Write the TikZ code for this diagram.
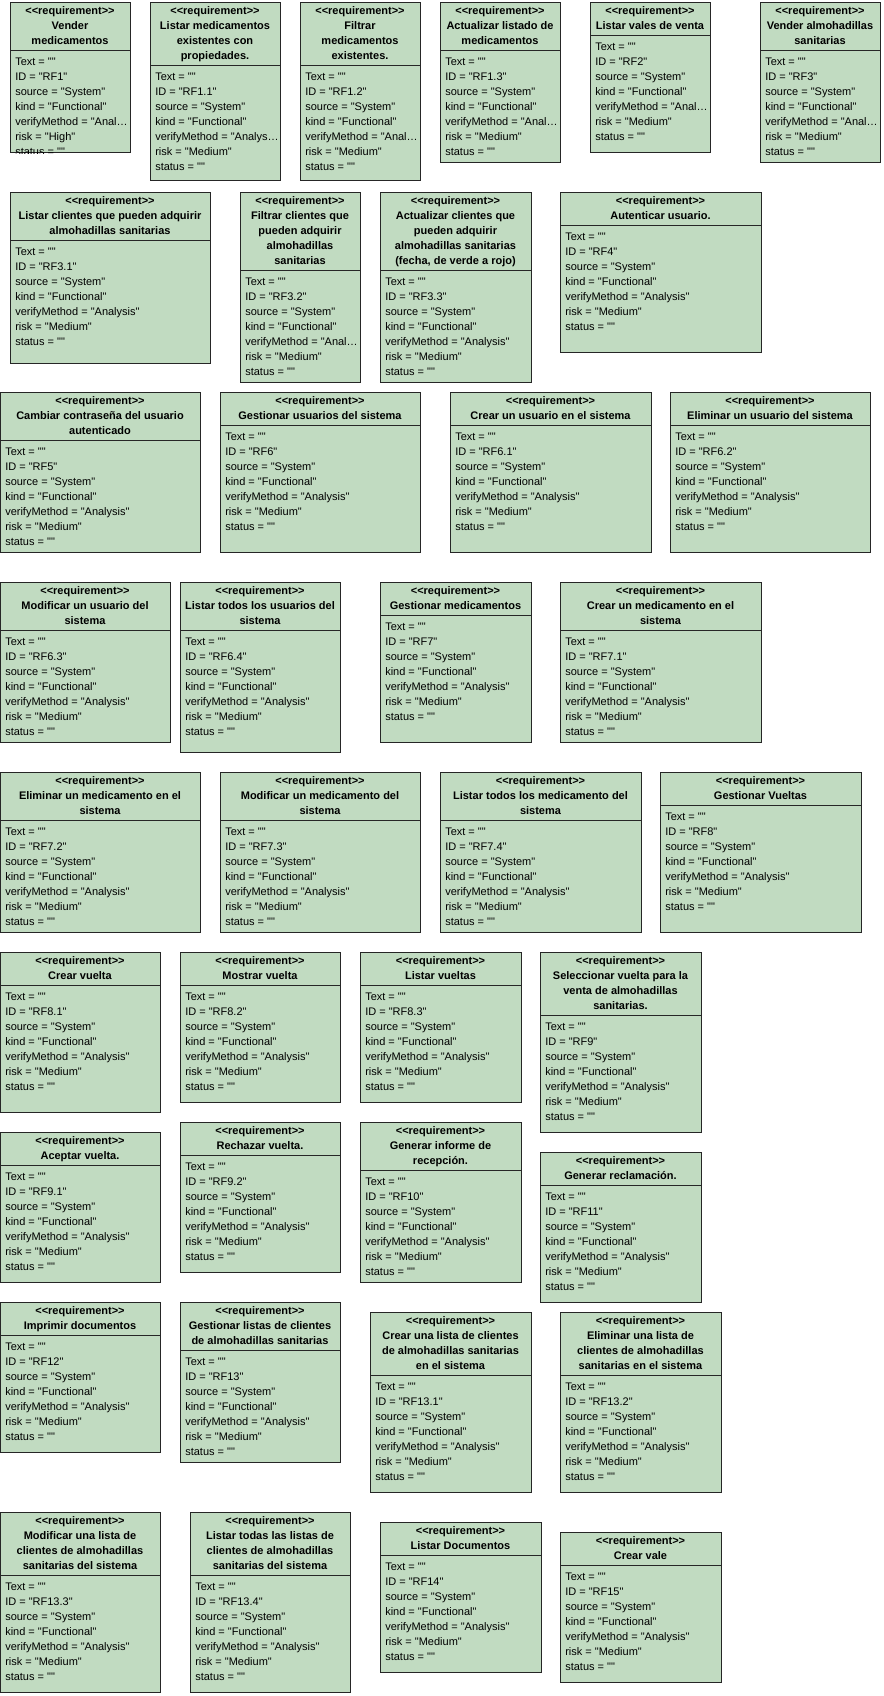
\documentclass[tikz,border=0pt]{standalone}
\usepackage{fontspec}
\newfontfamily\umlfont{Liberation Sans}
\usetikzlibrary{calc}

\definecolor{reqgreen}{RGB}{193,219,193}
\tikzset{
	reqbox/.style={draw=black!85, fill=reqgreen, line width=0.75pt, inner sep=0pt, anchor=north west},
	reqline/.style={draw=black!85, line width=0.75pt},
	reqhead/.style={font=\umlfont\bfseries\fontsize{8.25}{11.25}\selectfont, anchor=base, inner sep=0pt},
	reqattr/.style={font=\umlfont\fontsize{8.25}{11.25}\selectfont, anchor=base west, inner sep=0pt}
}

\newcommand{\reqrisk}{Medium}
% #1 verifyMethod, #2 name, #3 x, #4 top, #5 width, #6 height, #7 title lines, #8 ID
\newcommand{\reqbox}[8][{"Analysis"}]{
	\node[reqbox, minimum width=#5*0.75pt, minimum height=#6*0.75pt] (#2) at (#3,#4) {};
	\node[reqhead] (#2-s) at ({#3+#5/2},{#4+12}) {<<requirement>>};
	\foreach \l [count=\i] in {#7} {
		\node[reqhead] (#2-t\i) at ({#3+#5/2},{#4+12+15*\i}) {\l};
		\xdef\reqn{\i}
	}
	\pgfmathsetmacro\reqhy{#4+3+15*(\reqn+1)}
	\draw[reqline] (#2.west |- 0,\reqhy) -- (#2.east |- 0,\reqhy);
	\begin{scope}
		\clip (#2.north west) rectangle (#2.south east);
		\foreach \a [count=\k] in {Text = "", ID = "#8", source = "System", kind = "Functional", verifyMethod = #1, risk = "\reqrisk", status = ""}
			\node[reqattr] (#2-a\k) at ({#3+5},{\reqhy+15*\k}) {\a};
	\end{scope}
}

\begin{document}
\begin{tikzpicture}[x=0.75pt, y=-0.75pt]
	\fill[white] (0,0) rectangle (884,1696);
	\useasboundingbox (0,0) rectangle (884,1696);

	\begin{scope}
		\renewcommand{\reqrisk}{High}
		\reqbox[{"Anal…}]{rf1}{10}{2}{120}{150}{Vender, medicamentos}{RF1}
	\end{scope}
	\reqbox[{"Analys…}]{rf1-1}{150}{2}{130}{178}{Listar medicamentos, existentes con, propiedades.}{RF1.1}
	\reqbox[{"Anal…}]{rf1-2}{300}{2}{120}{178}{Filtrar, medicamentos, existentes.}{RF1.2}
	\reqbox[{"Anal…}]{rf1-3}{440}{2}{120}{160}{Actualizar listado de, medicamentos}{RF1.3}
	\reqbox[{"Anal…}]{rf2}{590}{2}{120}{150}{Listar vales de venta}{RF2}
	\reqbox[{"Anal…}]{rf3}{760}{2}{120}{160}{Vender almohadillas, sanitarias}{RF3}

	\reqbox{rf3-1}{10}{192}{200}{171}{Listar clientes que pueden adquirir, almohadillas sanitarias}{RF3.1}
	\reqbox[{"Anal…}]{rf3-2}{240}{192}{120}{190}{Filtrar clientes que, pueden adquirir, almohadillas, sanitarias}{RF3.2}
	\reqbox{rf3-3}{380}{192}{151}{190}{Actualizar clientes que, pueden adquirir, almohadillas sanitarias, {(fecha, de verde a rojo)}}{RF3.3}
	\reqbox{rf4}{560}{192}{201}{160}{Autenticar usuario.}{RF4}

	\reqbox{rf5}{0}{392}{200}{160}{Cambiar contraseña del usuario, autenticado}{RF5}
	\reqbox{rf6}{220}{392}{200}{160}{Gestionar usuarios del sistema}{RF6}
	\reqbox{rf6-1}{450}{392}{201}{160}{Crear un usuario en el sistema}{RF6.1}
	\reqbox{rf6-2}{670}{392}{200}{160}{Eliminar un usuario del sistema}{RF6.2}

	\reqbox{rf6-3}{0}{582}{170}{160}{Modificar un usuario del, sistema}{RF6.3}
	\reqbox{rf6-4}{180}{582}{160}{170}{Listar todos los usuarios del, sistema}{RF6.4}
	\reqbox{rf7}{380}{582}{151}{160}{Gestionar medicamentos}{RF7}
	\reqbox{rf7-1}{560}{582}{201}{160}{Crear un medicamento en el, sistema}{RF7.1}

	\reqbox{rf7-2}{0}{772}{200}{160}{Eliminar un medicamento en el, sistema}{RF7.2}
	\reqbox{rf7-3}{220}{772}{200}{160}{Modificar un medicamento del, sistema}{RF7.3}
	\reqbox{rf7-4}{440}{772}{201}{160}{Listar todos los medicamento del, sistema}{RF7.4}
	\reqbox{rf8}{660}{772}{201}{160}{Gestionar Vueltas}{RF8}

	\reqbox{rf8-1}{0}{952}{160}{160}{Crear vuelta}{RF8.1}
	\reqbox{rf8-2}{180}{952}{160}{150}{Mostrar vuelta}{RF8.2}
	\reqbox{rf8-3}{360}{952}{161}{150}{Listar vueltas}{RF8.3}
	\reqbox{rf9}{540}{952}{161}{180}{Seleccionar vuelta para la, venta de almohadillas, sanitarias.}{RF9}

	\reqbox{rf9-1}{0}{1132}{160}{150}{Aceptar vuelta.}{RF9.1}
	\reqbox{rf9-2}{180}{1122}{160}{150}{Rechazar vuelta.}{RF9.2}
	\reqbox{rf10}{360}{1122}{161}{160}{Generar informe de, recepción.}{RF10}
	\reqbox{rf11}{540}{1152}{161}{150}{Generar reclamación.}{RF11}

	\reqbox{rf12}{0}{1302}{160}{150}{Imprimir documentos}{RF12}
	\reqbox{rf13}{180}{1302}{160}{160}{Gestionar listas de clientes, de almohadillas sanitarias}{RF13}
	\reqbox{rf13-1}{370}{1312}{161}{180}{Crear una lista de clientes, de almohadillas sanitarias, en el sistema}{RF13.1}
	\reqbox{rf13-2}{560}{1312}{161}{180}{Eliminar una lista de, clientes de almohadillas, sanitarias en el sistema}{RF13.2}

	\reqbox{rf13-3}{0}{1512}{160}{180}{Modificar una lista de, clientes de almohadillas, sanitarias del sistema}{RF13.3}
	\reqbox{rf13-4}{190}{1512}{160}{180}{Listar todas las listas de, clientes de almohadillas, sanitarias del sistema}{RF13.4}
	\reqbox{rf14}{380}{1522}{161}{150}{Listar Documentos}{RF14}
	\reqbox{rf15}{560}{1532}{161}{150}{Crear vale}{RF15}
\end{tikzpicture}
\end{document}
